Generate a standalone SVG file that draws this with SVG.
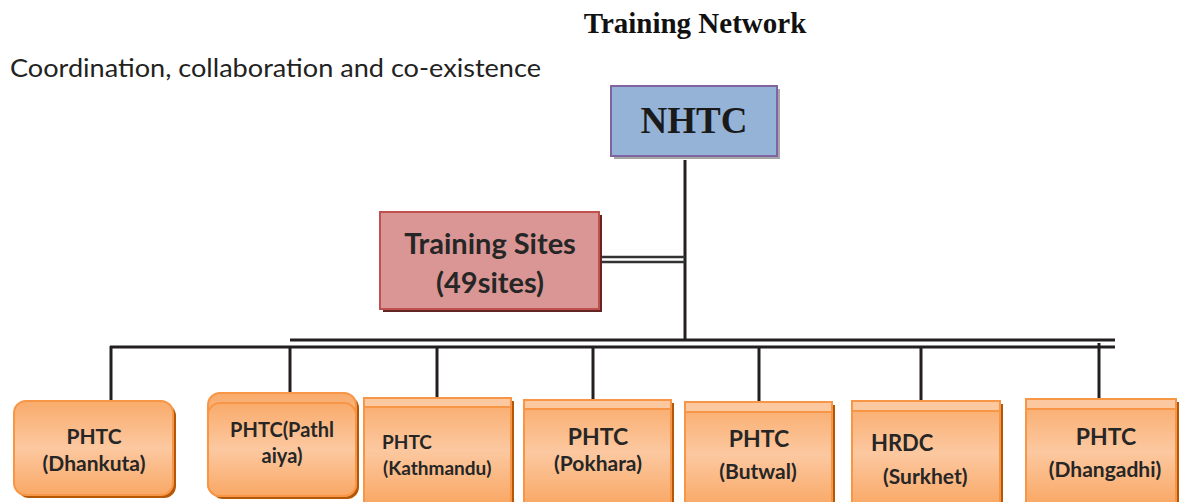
<svg xmlns="http://www.w3.org/2000/svg" width="1179" height="502" viewBox="0 0 1179 502">
<defs>
<linearGradient id="og" x1="0" y1="0" x2="0" y2="1">
<stop offset="0" stop-color="#f9ab6b"/>
<stop offset="0.5" stop-color="#fcc8a0"/>
<stop offset="1" stop-color="#f9a865"/>
</linearGradient>
<style>
.ob{fill:url(#og);stroke:#f79646;stroke-width:2}
.sh{fill:#b65708}
.tab{fill:#fcc8a0;stroke:#f79646;stroke-width:2}
.ln{stroke:#231f20;stroke-width:3;fill:none}
.t{font-family:Lato,"Open Sans",sans-serif;font-weight:bold;fill:#262626}
</style>
</defs>
<rect width="1179" height="502" fill="#ffffff"/>
<text x="695" y="33" text-anchor="middle" font-family="Liberation Serif,serif" font-weight="bold" font-size="29" fill="#111">Training Network</text>
<text x="10" y="77" font-family="Lato,sans-serif" font-size="25" fill="#222" textLength="531" lengthAdjust="spacingAndGlyphs">Coordination, collaboration and co-existence</text>

<g id="connectors">
<line class="ln" x1="685" y1="160" x2="685" y2="340"/>
<line x1="600" y1="257" x2="685" y2="257" stroke="#333" stroke-width="2.5"/>
<line x1="600" y1="262" x2="685" y2="262" stroke="#333" stroke-width="2.5"/>
<line class="ln" x1="290" y1="340" x2="1115" y2="340"/>
<line class="ln" x1="110" y1="347" x2="1115" y2="347"/>
<line class="ln" x1="111" y1="346" x2="111" y2="402"/>
<line class="ln" x1="290" y1="347" x2="290" y2="400"/>
<line class="ln" x1="437" y1="347" x2="437" y2="404"/>
<line class="ln" x1="593" y1="347" x2="593" y2="404"/>
<line class="ln" x1="759" y1="347" x2="759" y2="404"/>
<line class="ln" x1="921" y1="347" x2="921" y2="404"/>
<line class="ln" x1="1099" y1="343" x2="1099" y2="400"/>
</g>

<g id="nhtc">
<rect x="614" y="89" width="166" height="70" fill="#a6a6a6"/>
<rect x="611" y="86" width="166" height="70" fill="#95b3d7" stroke="#8064a2" stroke-width="2"/>
<text x="694" y="133" text-anchor="middle" font-family="Liberation Serif,serif" font-weight="bold" font-size="37" fill="#1a1a1a">NHTC</text>
</g>

<g id="training-sites">
<rect x="383" y="215" width="219" height="97" fill="#632523"/>
<rect x="380" y="212" width="219" height="97" fill="#d99694" stroke="#c0504d" stroke-width="2"/>
<text class="t" x="490" y="254" text-anchor="middle" font-size="29">Training Sites</text>
<text class="t" x="490" y="293" text-anchor="middle" font-size="29">(49sites)</text>
</g>

<g id="dhankuta">
<rect class="sh" x="17" y="404" width="159" height="94" rx="12"/>
<rect class="ob" x="14" y="401" width="159" height="94" rx="12"/>
<text class="t" x="94" y="444" text-anchor="middle" font-size="21">PHTC</text>
<text class="t" x="94" y="471" text-anchor="middle" font-size="21">(Dhankuta)</text>
</g>

<g id="pathlaiya">
<rect class="sh" x="211" y="396" width="148" height="103" rx="12"/>
<rect class="ob" x="208" y="393" width="148" height="103" rx="12"/>
<rect class="ob" x="208" y="403" width="148" height="93" rx="12"/>
<text class="t" x="282" y="437" text-anchor="middle" font-size="20">PHTC(Pathl</text>
<text class="t" x="282" y="463" text-anchor="middle" font-size="20">aiya)</text>
</g>

<g id="kathmandu">
<rect class="sh" x="367" y="401" width="147" height="105"/>
<rect class="ob" x="364" y="398" width="147" height="105"/>
<rect class="tab" x="364" y="398" width="147" height="9"/>
<text class="t" x="382" y="449" font-size="19">PHTC</text>
<text class="t" x="383" y="475" font-size="19">(Kathmandu)</text>
</g>

<g id="pokhara">
<rect class="sh" x="527" y="403" width="147" height="105"/>
<rect class="ob" x="524" y="400" width="147" height="105"/>
<rect class="tab" x="524" y="400" width="147" height="9"/>
<text class="t" x="598" y="445" text-anchor="middle" font-size="23">PHTC</text>
<text class="t" x="598" y="471" text-anchor="middle" font-size="21">(Pokhara)</text>
</g>

<g id="butwal">
<rect class="sh" x="688" y="405" width="147" height="105"/>
<rect class="ob" x="685" y="402" width="147" height="105"/>
<rect class="tab" x="685" y="402" width="147" height="10"/>
<text class="t" x="759" y="447" text-anchor="middle" font-size="23">PHTC</text>
<text class="t" x="758" y="479" text-anchor="middle" font-size="21">(Butwal)</text>
</g>

<g id="surkhet">
<rect class="sh" x="855" y="404" width="148" height="105"/>
<rect class="ob" x="852" y="401" width="148" height="105"/>
<rect class="tab" x="852" y="401" width="148" height="10"/>
<text class="t" x="871" y="451" font-size="22">HRDC</text>
<text class="t" x="883" y="484" font-size="21">(Surkhet)</text>
</g>

<g id="dhangadhi">
<rect class="sh" x="1029" y="402" width="150" height="105"/>
<rect class="ob" x="1026" y="399" width="150" height="105"/>
<rect class="tab" x="1026" y="399" width="150" height="10"/>
<text class="t" x="1106" y="445" text-anchor="middle" font-size="23">PHTC</text>
<text class="t" x="1105" y="477" text-anchor="middle" font-size="21">(Dhangadhi)</text>
</g>
</svg>
